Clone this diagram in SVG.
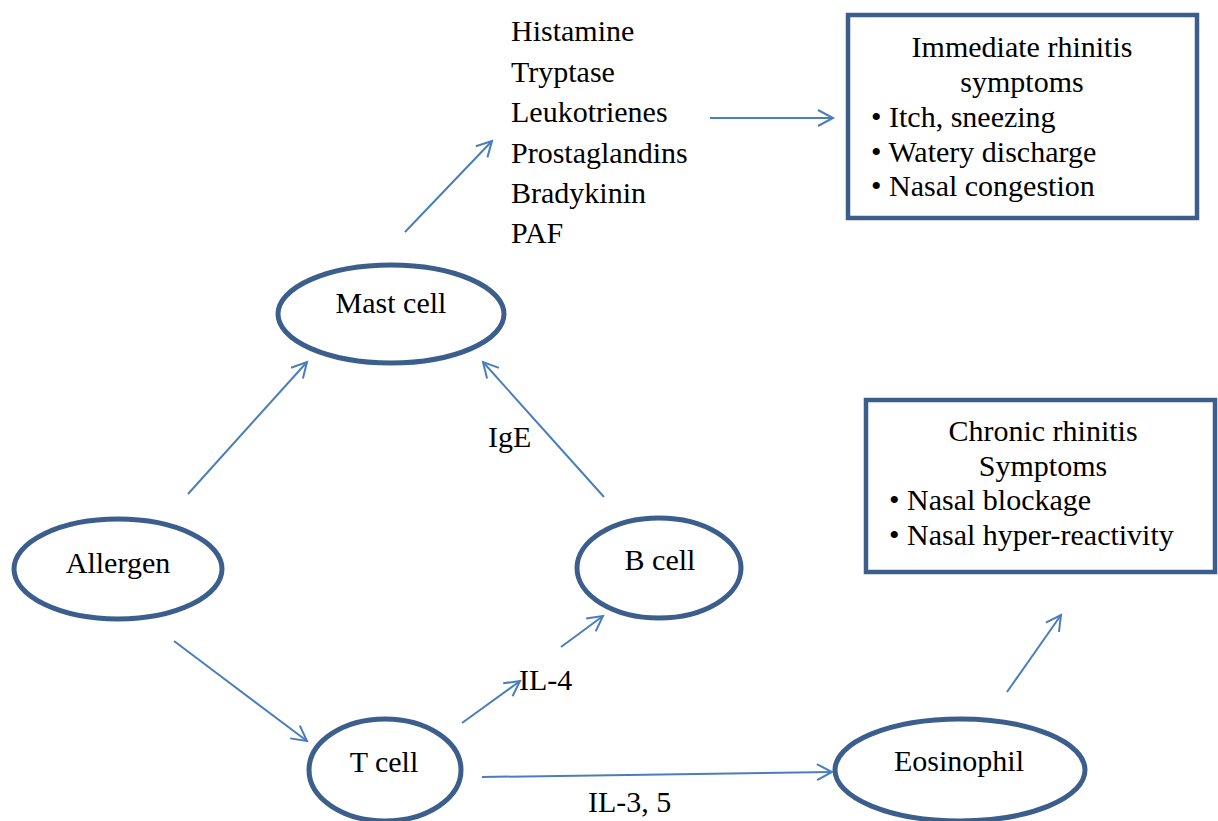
<svg xmlns="http://www.w3.org/2000/svg" width="1218" height="821" viewBox="0 0 1218 821">
<style>
text{font-family:"Liberation Serif","Times New Roman",serif;font-size:30px;fill:#000}
.c{text-anchor:middle}
.node{fill:#fff;stroke:#3b5e8c;stroke-width:5}
.box{fill:#fff;stroke:#3b5e8c;stroke-width:4.5}
.conn{fill:none;stroke:#4a7ebb;stroke-width:2;marker-end:url(#ah)}
</style>
<defs>
<marker id="ah" markerUnits="userSpaceOnUse" markerWidth="30" markerHeight="30" refX="0" refY="0" viewBox="-20 -15 30 30" orient="auto" overflow="visible">
<path d="M-15,-8 L0,0 L-15,8" fill="none" stroke="#4a7ebb" stroke-width="2"/>
</marker>
</defs>
<rect width="1218" height="821" fill="#fff"/>
<g id="connectors">
<line class="conn" x1="188" y1="494" x2="307" y2="362"/>
<line class="conn" x1="604" y1="497" x2="483" y2="362"/>
<line class="conn" x1="405" y1="232" x2="492" y2="141"/>
<line class="conn" x1="710" y1="118" x2="833" y2="118"/>
<line class="conn" x1="174" y1="641" x2="307" y2="741"/>
<line class="conn" x1="462" y1="723" x2="520" y2="681"/>
<line class="conn" x1="561" y1="647" x2="603" y2="616"/>
<line class="conn" x1="482" y1="777" x2="832" y2="772"/>
<line class="conn" x1="1007" y1="692" x2="1061" y2="615"/>
<text x="488" y="447">IgE</text>
<text x="519" y="690">IL-4</text>
<text x="588" y="812">IL-3, 5</text>
</g>
<g id="mediators">
<text x="511" y="41">Histamine</text>
<text x="511" y="81.5">Tryptase</text>
<text x="511" y="122">Leukotrienes</text>
<text x="511" y="162.5">Prostaglandins</text>
<text x="511" y="203">Bradykinin</text>
<text x="511" y="243">PAF</text>
</g>
<g id="immediate">
<rect class="box" x="848" y="15" width="349" height="203"/>
<text class="c" x="1022" y="57">Immediate rhinitis</text>
<text class="c" x="1022" y="92">symptoms</text>
<text x="871" y="127">• Itch, sneezing</text>
<text x="871" y="162">• Watery discharge</text>
<text x="871" y="196">• Nasal congestion</text>
</g>
<g id="chronic">
<rect class="box" x="866" y="400" width="349" height="172"/>
<text class="c" x="1043" y="441">Chronic rhinitis</text>
<text class="c" x="1043" y="476">Symptoms</text>
<text x="889" y="510">• Nasal blockage</text>
<text x="889" y="545">• Nasal hyper-reactivity</text>
</g>
<g id="mast-cell">
<ellipse class="node" cx="391" cy="314" rx="113" ry="49"/>
<text class="c" x="391" y="313">Mast cell</text>
</g>
<g id="allergen">
<ellipse class="node" cx="118" cy="569" rx="104" ry="50"/>
<text class="c" x="118" y="573">Allergen</text>
</g>
<g id="b-cell">
<ellipse class="node" cx="659" cy="568" rx="82" ry="50"/>
<text class="c" x="660" y="570">B cell</text>
</g>
<g id="t-cell">
<ellipse class="node" cx="385" cy="770" rx="76" ry="51"/>
<text class="c" x="384" y="772">T cell</text>
</g>
<g id="eosinophil">
<ellipse class="node" cx="960" cy="770" rx="125" ry="51"/>
<text class="c" x="959" y="771">Eosinophil</text>
</g>
</svg>
